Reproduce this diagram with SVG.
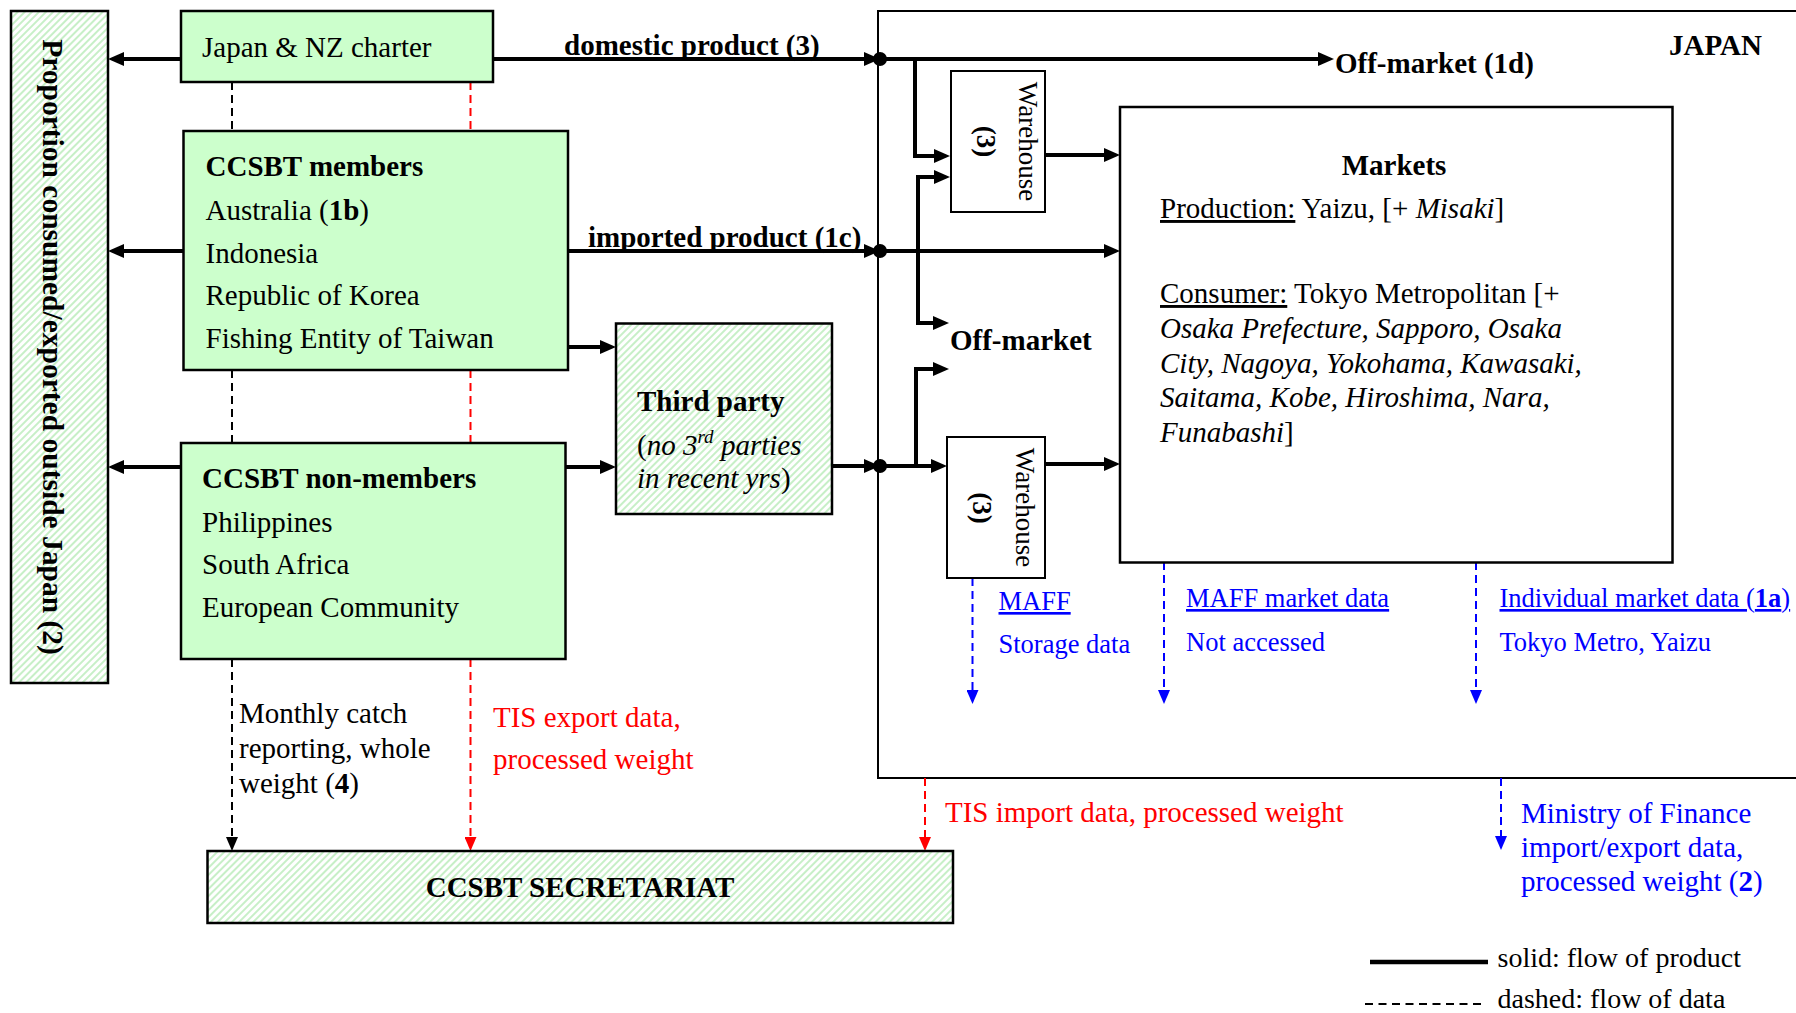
<svg xmlns="http://www.w3.org/2000/svg" width="1796" height="1013" viewBox="0 0 1796 1013">
<defs>
<pattern id="hatch" patternUnits="userSpaceOnUse" width="5" height="5" patternTransform="rotate(45)">
<rect width="5" height="5" fill="#ffffff"/>
<line x1="1" y1="0" x2="1" y2="5" stroke="#b9ecb9" stroke-width="1.6"/>
</pattern>
<marker id="ah" markerUnits="userSpaceOnUse" markerWidth="16" markerHeight="14" refX="10" refY="7" orient="auto">
<path d="M0,0 L16,7 L0,14 z" fill="#000"/>
</marker>
<marker id="dk" markerUnits="userSpaceOnUse" markerWidth="14" markerHeight="12" refX="8" refY="6" orient="auto">
<path d="M0,0 L14,6 L0,12 z" fill="#000"/>
</marker>
<marker id="dr" markerUnits="userSpaceOnUse" markerWidth="14" markerHeight="12" refX="8" refY="6" orient="auto">
<path d="M0,0 L14,6 L0,12 z" fill="#ff0000"/>
</marker>
<marker id="db" markerUnits="userSpaceOnUse" markerWidth="14" markerHeight="12" refX="8" refY="6" orient="auto">
<path d="M0,0 L14,6 L0,12 z" fill="#0000ff"/>
</marker>
</defs>
<style>
text{font-family:"Liberation Serif","Times New Roman",serif;font-size:29px;fill:#000}
.b{font-weight:bold}
.i{font-style:italic}
.u{text-decoration:underline}
.blue{fill:#0000ff;font-size:26.5px}
.red{fill:#ff0000}
.box{stroke:#000;stroke-width:2.5}
.green{fill:#ccffcc}
.hat{fill:url(#hatch)}
.white{fill:#ffffff;stroke:#000;stroke-width:2}
.flow{fill:none;stroke:#000;stroke-width:4}
.fa{marker-end:url(#ah)}
.data{fill:none;stroke-width:2;stroke-dasharray:8 5}
.dk{stroke:#000}
.dr{stroke:#ff0000}
.db{stroke:#0000ff}
</style>
<rect width="1796" height="1013" fill="#ffffff"/>

<g id="japan">
<rect x="878" y="11" width="1000" height="767" fill="none" stroke="#000" stroke-width="2"/>
<text x="1669" y="55" class="b">JAPAN</text>
</g>

<g id="connectors">
<path class="flow fa" d="M180,59 H114"/>
<path class="flow fa" d="M183,251 H114"/>
<path class="flow fa" d="M181,467 H114"/>
<path class="flow fa" d="M493,59 H874"/>
<path class="flow fa" d="M880,59 H1328"/>
<path class="flow fa" d="M915,59 V156 H944"/>
<path class="flow fa" d="M568,251 H874"/>
<path class="flow fa" d="M880,251 H1114"/>
<path class="flow fa" d="M918,251 V177 H944"/>
<path class="flow fa" d="M918,251 V323 H943"/>
<path class="flow fa" d="M568,347 H610"/>
<path class="flow fa" d="M565,467 H610"/>
<path class="flow fa" d="M832,466 H874"/>
<path class="flow fa" d="M880,466 H941"/>
<path class="flow fa" d="M916,466 V369 H943"/>
<path class="flow fa" d="M1045,155 H1114"/>
<path class="flow fa" d="M1045,464 H1114"/>
<circle cx="880" cy="59" r="7" fill="#000"/>
<circle cx="880" cy="251" r="7" fill="#000"/>
<circle cx="880" cy="466" r="7" fill="#000"/>
<path class="data dk" d="M232,82 V131"/>
<path class="data dk" d="M232,370 V443"/>
<path class="data dk" d="M232,659 V845" marker-end="url(#dk)"/>
<path class="data dr" d="M470.5,82 V131"/>
<path class="data dr" d="M470.5,370 V443"/>
<path class="data dr" d="M470.5,659 V845" marker-end="url(#dr)"/>
<path class="data dr" d="M925,778 V845" marker-end="url(#dr)"/>
<path class="data db" d="M972.5,578 V698" marker-end="url(#db)"/>
<path class="data db" d="M1164,562 V698" marker-end="url(#db)"/>
<path class="data db" d="M1476,562 V698" marker-end="url(#db)"/>
<path class="data db" d="M1501,778 V844" marker-end="url(#db)"/>
<text x="564" y="55" class="b">domestic product (3)</text>
<text x="588" y="247" class="b">imported product (1c)</text>
<text x="1335" y="73" class="b">Off-market (1d)</text>
<text x="950" y="350" class="b">Off-market</text>
<text x="239" y="723">Monthly catch</text>
<text x="239" y="758">reporting, whole</text>
<text x="239" y="793">weight (<tspan class="b">4</tspan>)</text>
<text x="493" y="727" class="red">TIS export data,</text>
<text x="493" y="769" class="red">processed weight</text>
<text x="945" y="822" class="red">TIS import data, processed weight</text>
<text x="998.5" y="610" class="blue u">MAFF</text>
<text x="998.5" y="653" class="blue">Storage data</text>
<text x="1186" y="607" class="blue u">MAFF market data</text>
<text x="1186" y="651" class="blue">Not accessed</text>
<text x="1499.5" y="607" class="blue u">Individual market data (<tspan class="b">1a</tspan>)</text>
<text x="1499.5" y="651" class="blue">Tokyo Metro, Yaizu</text>
<text x="1521" y="823" class="blue" style="font-size:29px">Ministry of Finance</text>
<text x="1521" y="857" class="blue" style="font-size:29px">import/export data,</text>
<text x="1521" y="891" class="blue" style="font-size:29px">processed weight (<tspan class="b">2</tspan>)</text>
</g>

<g id="proportion">
<rect x="11" y="11" width="97" height="672" class="box hat"/>
<text transform="translate(43,347) rotate(90)" text-anchor="middle" class="b" style="font-size:29.5px">Proportion consumed/exported outside Japan (2)</text>
</g>

<g id="japan-nz">
<rect x="181" y="11" width="312" height="71" class="box green"/>
<text x="202" y="57">Japan &amp; NZ charter</text>
</g>

<g id="members">
<rect x="183.5" y="131" width="384.5" height="239" class="box green"/>
<text x="205.5" y="176" class="b">CCSBT members</text>
<text x="205.5" y="220">Australia (<tspan class="b">1b</tspan>)</text>
<text x="205.5" y="263">Indonesia</text>
<text x="205.5" y="305">Republic of Korea</text>
<text x="205.5" y="348">Fishing Entity of Taiwan</text>
</g>

<g id="non-members">
<rect x="181" y="443" width="384.5" height="216" class="box green"/>
<text x="202" y="488" class="b">CCSBT non-members</text>
<text x="202" y="532">Philippines</text>
<text x="202" y="574">South Africa</text>
<text x="202" y="617">European Community</text>
</g>

<g id="third-party">
<rect x="616" y="323.5" width="216" height="190.5" class="box hat"/>
<text x="637" y="411" class="b">Third party</text>
<text x="637" y="455">(<tspan class="i">no 3</tspan><tspan class="i" dy="-12" style="font-size:19px">rd</tspan><tspan class="i" dy="12"> parties</tspan></text>
<text x="637" y="488"><tspan class="i">in recent yrs</tspan>)</text>
</g>

<g id="warehouse-1">
<rect x="951" y="71" width="94" height="141" class="white"/>
<text transform="translate(1019,141.5) rotate(90)" text-anchor="middle" style="font-size:27px">Warehouse</text>
<text transform="translate(977,141.5) rotate(90)" text-anchor="middle" class="b" style="font-size:27px">(3)</text>
</g>

<g id="warehouse-2">
<rect x="947" y="437" width="98" height="141" class="white"/>
<text transform="translate(1016,507.5) rotate(90)" text-anchor="middle" style="font-size:27px">Warehouse</text>
<text transform="translate(973,508) rotate(90)" text-anchor="middle" class="b" style="font-size:27px">(3)</text>
</g>

<g id="markets">
<rect x="1120" y="107" width="552.5" height="455.5" class="white" style="stroke-width:2.5"/>
<text x="1394" y="175" text-anchor="middle" class="b">Markets</text>
<text x="1160" y="218"><tspan class="u">Production:</tspan> Yaizu, [+ <tspan class="i">Misaki</tspan>]</text>
<text x="1160" y="303"><tspan class="u">Consumer:</tspan> Tokyo Metropolitan [+</text>
<text x="1160" y="338" class="i">Osaka Prefecture, Sapporo, Osaka</text>
<text x="1160" y="373" class="i">City, Nagoya, Yokohama, Kawasaki,</text>
<text x="1160" y="407" class="i">Saitama, Kobe, Hiroshima, Nara,</text>
<text x="1160" y="442"><tspan class="i">Funabashi</tspan>]</text>
</g>

<g id="secretariat">
<rect x="207.5" y="851" width="745.5" height="72" class="box hat"/>
<text x="580" y="897" text-anchor="middle" class="b">CCSBT SECRETARIAT</text>
</g>

<g id="legend">
<path d="M1370,962 H1488" stroke="#000" stroke-width="4.5"/>
<text x="1497.5" y="967" style="font-size:28px">solid: flow of product</text>
<path d="M1365,1004 H1485" stroke="#000" stroke-width="2" stroke-dasharray="8 5.5"/>
<text x="1497.5" y="1008" style="font-size:28px">dashed: flow of data</text>
</g>
</svg>
